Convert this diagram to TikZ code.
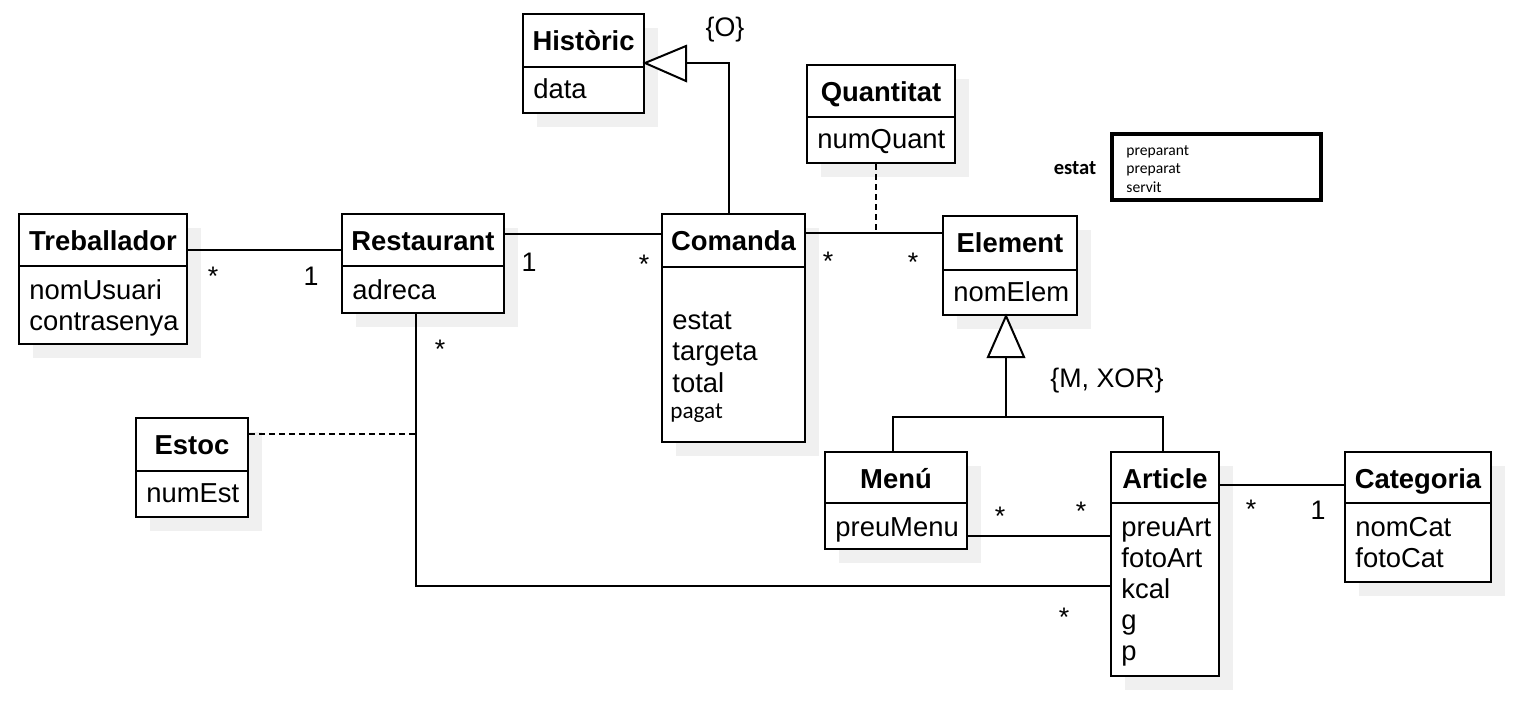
\documentclass[tikz,border=0pt]{standalone}
\usepackage{fontspec}
\setmainfont{Liberation Sans}
\newfontfamily\carlito{Carlito}
\usetikzlibrary{fit,shadows}
\newcommand\umlcls[8]{%
  \node[umlbox, fit={(#2,#3) (#4,#5)}] (#1) {};
  \draw[conn] (#1.west |- 0,#6) -- (#1.east |- 0,#6);
  \node[ctitle] (#1-t) at (#1.north |- 0,#7) {#8};}
\newcommand\cattr[4]{\node[cattr] (#1) at (#2,#3) {#4};}
\newcommand\mult[4]{\node[mlabel] (#1) at (#2,#3) {#4};}
\begin{document}
\begin{tikzpicture}[x=0.5pt,y=-0.5pt,
  umlbox/.style={draw, line width=1pt, fill=white, inner sep=0pt,
    drop shadow={shadow xshift=7pt, shadow yshift=-7pt, fill=black!6, opacity=1}},
  conn/.style={line width=1pt},
  dconn/.style={line width=1pt, dash pattern=on 3pt off 2pt},
  ctitle/.style={anchor=base, inner sep=0pt, font=\fontsize{13.7}{16}\selectfont\bfseries},
  cattr/.style={anchor=base west, inner sep=0pt, font=\fontsize{13.7}{16}\selectfont},
  mlabel/.style={anchor=base, inner sep=0pt, font=\fontsize{13.4}{16}\selectfont},
  gentri/.style={line width=1pt, fill=white, line join=miter}]
\useasboundingbox (0,0) rectangle (1513,709);
% classes
\umlcls{hist}{523}{14}{644}{113}{67}{50}{Històric}
\cattr{hist-a1}{533}{98}{data}
\umlcls{quant}{807}{65}{955}{163}{117}{101}{Quantitat}
\cattr{quant-a1}{817}{148}{numQuant}
\umlcls{treb}{19}{214}{187}{344}{266}{250}{Treballador}
\cattr{treb-a1}{29}{299}{nomUsuari}
\cattr{treb-a2}{29}{330}{contrasenya}
\umlcls{rest}{342}{214}{504}{313}{266}{250}{Restaurant}
\cattr{rest-a1}{352}{299}{adreca}
\umlcls{com}{662}{214}{805}{442}{267}{250}{Comanda}
\cattr{com-a1}{672}{329}{estat}
\cattr{com-a2}{672}{360}{targeta}
\cattr{com-a3}{672}{392}{total}
\node[anchor=base west, inner sep=0pt, font=\carlito\fontsize{11.6}{13}\selectfont] (com-a4) at (670,418) {pagat};
\umlcls{elem}{943}{216}{1077}{315}{270}{252}{Element}
\cattr{elem-a1}{953}{301}{nomElem}
\umlcls{estoc}{136}{418}{248}{517}{471}{454}{Estoc}
\cattr{estoc-a1}{146}{502}{numEst}
\umlcls{menu}{825}{452}{967}{549}{503}{488}{Menú}
\cattr{menu-a1}{835}{536}{preuMenu}
\umlcls{art}{1111}{452}{1219}{676}{503}{488}{Article}
\cattr{art-a1}{1121}{536}{preuArt}
\cattr{art-a2}{1121}{567}{fotoArt}
\cattr{art-a3}{1121}{598}{kcal}
\cattr{art-a4}{1121}{629}{g}
\cattr{art-a5}{1121}{660}{p}
\umlcls{cat}{1345}{452}{1491}{582}{503}{488}{Categoria}
\cattr{cat-a1}{1355}{536}{nomCat}
\cattr{cat-a2}{1355}{567}{fotoCat}
% estat enumeration
\node[draw, line width=2pt, inner sep=0pt, fit={(1112,134) (1321,200)}] (enum) {};
\node[anchor=base, inner sep=0pt, font=\carlito\bfseries\fontsize{10.3}{12}\selectfont] (enum-t) at (1075,174) {estat};
\node[anchor=base west, inner sep=0pt, font=\carlito\fontsize{7.8}{9}\selectfont] (enum-1) at (1126,155) {preparant};
\node[anchor=base west, inner sep=0pt, font=\carlito\fontsize{7.8}{9}\selectfont] (enum-2) at (1126,173) {preparat};
\node[anchor=base west, inner sep=0pt, font=\carlito\fontsize{7.8}{9}\selectfont] (enum-3) at (1126,192) {servit};
% associations
\draw[conn] (treb.east |- 0,250) -- (rest.west |- 0,250);
\mult{m1}{213}{285}{*}
\mult{m2}{311}{285}{1}
\draw[conn] (rest.east |- 0,234) -- (com.west |- 0,234);
\mult{m3}{529}{271}{1}
\mult{m4}{644}{273}{*}
\coordinate (junc) at (416,434);
\draw[conn] (rest.south -| junc) -- (junc) |- (art.west |- 0,586);
\mult{m5}{440}{358}{*}
\mult{m6}{1064}{626}{*}
\draw[dconn] (estoc.east |- junc) -- (junc);
\draw[conn] (com.east |- 0,233) -- (elem.west |- 0,233);
\mult{m7}{828}{270}{*}
\mult{m8}{913}{271}{*}
\coordinate (qj) at (876,233);
\draw[dconn] (quant.south -| qj) -- (qj);
\draw[conn] (menu.east |- 0,536) -- (art.west |- 0,536);
\mult{m9}{1000}{525}{*}
\mult{m10}{1081}{520}{*}
\draw[conn] (art.east |- 0,485) -- (cat.west |- 0,485);
\mult{m11}{1251}{518}{*}
\mult{m12}{1318}{519}{1}
% generalization Comanda -> Historic
\coordinate (hb) at (686,63);
\draw[conn] (com.north -| 729,0) |- (hb);
\draw[gentri] (hist.east |- hb) -- (686,46) -- (686,81) -- cycle;
\node[mlabel] (ogen) at (725,36) {\{O\}};
% generalization Menu/Article -> Element
\coordinate (eb) at (1006,357);
\coordinate (eh) at (1006,417);
\draw[conn] (eb) -- (eh);
\draw[conn] (menu.north -| 893,0) |- (eh) -| (art.north -| 1163,0);
\draw[gentri] (elem.south -| eb) -- (988,357) -- (1024,357) -- cycle;
\node[mlabel] (mxor) at (1107,387) {\{M, XOR\}};
\end{tikzpicture}
\end{document}
